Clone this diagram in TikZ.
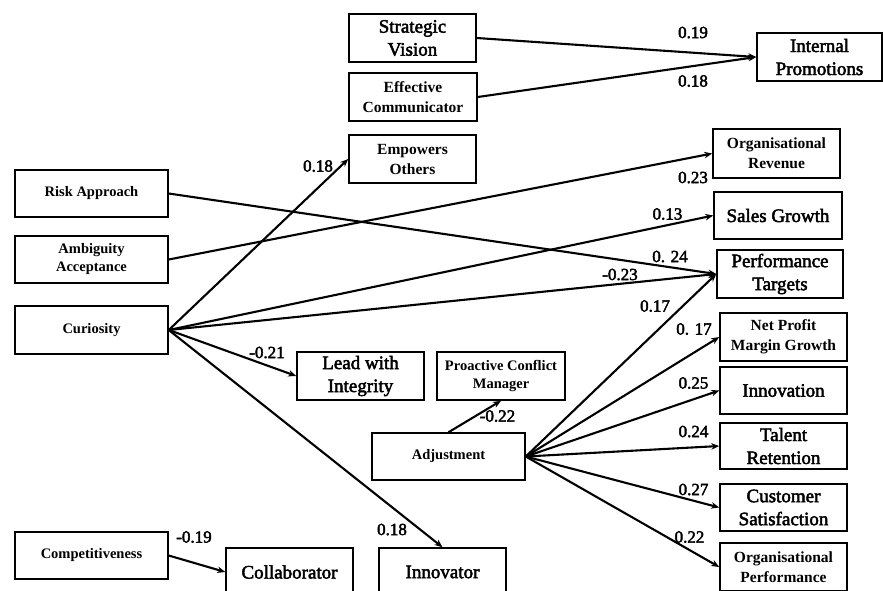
\documentclass[tikz,border=0pt]{standalone}
\usepackage{fontspec}
\setmainfont{Liberation Serif}
\newfontfamily\heavyserif[FakeBold=2.5]{Liberation Serif}
\usetikzlibrary{arrows.meta}
\tikzset{
  bigbox/.style={draw, line width=1.5pt, align=center, inner sep=0pt,
    minimum width=127pt, minimum height=48pt, font=\heavyserif\fontsize{19}{23}\selectfont},
  midbox/.style={bigbox, font=\bfseries\fontsize{15.5}{20}\selectfont},
  smallbox/.style={bigbox, minimum width=153pt, minimum height=47pt,
    font=\bfseries\fontsize{14.5}{18}\selectfont},
  coef/.style={inner sep=0pt, font=\heavyserif\fontsize{17}{20}\selectfont},
  link/.style={->, line width=2.1pt}
}

\begin{document}
\begin{tikzpicture}[x=1pt, y=-1pt, >={Stealth[length=8pt,width=6.5pt]}]
  \useasboundingbox (0,0) rectangle (883,590);
  \clip (0,0) rectangle (883,590);
  % boxes
  \node[bigbox] (strat) at (412.5,38) {Strategic\\Vision};
  \node[midbox, minimum width=128pt] (effcom) at (413,97) {Effective\\Communicator};
  \node[midbox] (empow) at (412.5,159) {Empowers\\Others};
  \node[bigbox, minimum width=125pt] (intprom) at (819.5,57) {Internal\\Promotions};
  \node[midbox, minimum height=49pt] (orgrev) at (776.5,153.5) {Organisational\\Revenue};
  \node[bigbox, minimum width=128pt, minimum height=47pt] (sales) at (778,215.5) {Sales Growth};
  \node[bigbox, minimum width=126pt] (perf) at (780,274) {Performance\\Targets};
  \node[smallbox] (risk) at (91.5,193.5) {Risk Approach};
  \node[smallbox] (ambig) at (91.5,259.5) {Ambiguity\\Acceptance};
  \node[smallbox, minimum height=48pt] (curio) at (91.5,330) {Curiosity};
  \node[bigbox] (lead) at (360.5,376) {Lead with\\Integrity};
  \node[smallbox, minimum width=128pt, minimum height=48pt] (proact) at (501,376) {Proactive Conflict\\Manager};
  \node[smallbox] (adjust) at (448.5,456.5) {Adjustment};
  \node[smallbox] (compet) at (91.5,555.5) {Competitiveness};
  \node[bigbox] (collab) at (289.5,572) {Collaborator};
  \node[bigbox] (innovr) at (442.5,572) {Innovator};
  \node[midbox] (netprof) at (783.5,337) {Net Profit\\Margin Growth};
  \node[bigbox, minimum height=47pt] (innov) at (783.5,390.5) {Innovation};
  \node[bigbox, minimum height=46pt] (talent) at (783.5,446) {Talent\\Retention};
  \node[bigbox, minimum height=47pt] (cust) at (783.5,507.5) {Customer\\Satisfaction};
  \node[midbox] (orgperf) at (783.5,567) {Organisational\\Performance};
  % paths
  \draw[link] (strat.east) -- (intprom.west);
  \draw[link] (effcom.east) -- (intprom.west);
  \draw[link] (curio.east) -- (empow.west);
  \draw[link] (risk.east) -- (perf.west);
  \draw[link] (ambig.east) -- (orgrev.west);
  \draw[link] (curio.east) -- (sales.west);
  \draw[link] (curio.east) -- (perf.west);
  \draw[link] (curio.east) -- (lead.west);
  \draw[link] (curio.east) -- (innovr.north);
  \draw[link] (compet.east) -- (collab.west);
  \draw[link] (adjust.north) -- (proact.south);
  \draw[link] (adjust.east) -- (perf.west);
  \draw[link] (adjust.east) -- (netprof.west);
  \draw[link] (adjust.east) -- (innov.west);
  \draw[link] (adjust.east) -- (talent.west);
  \draw[link] (adjust.east) -- (cust.west);
  \draw[link] (adjust.east) -- (orgperf.west);
  % coefficients
  \node[coef] (c1) at (693,32.5) {0.19};
  \node[coef] (c2) at (693,81) {0.18};
  \node[coef] (c3) at (318,166) {0.18};
  \node[coef] (c4) at (693,177.5) {0.23};
  \node[coef] (c5) at (667.5,214) {0.13};
  \node[coef] (c6) at (670,256.5) {0. 24};
  \node[coef] (c7) at (620,274.5) {-0.23};
  \node[coef] (c8) at (655,306) {0.17};
  \node[coef] (c9) at (694,329) {0. 17};
  \node[coef] (c10) at (693.5,383) {0.25};
  \node[coef] (c11) at (693.5,431.5) {0.24};
  \node[coef] (c12) at (693.5,489.5) {0.27};
  \node[coef] (c13) at (689.5,537) {0.22};
  \node[coef] (c14) at (497.5,416) {-0.22};
  \node[coef] (c15) at (267,352.5) {-0.21};
  \node[coef] (c16) at (392,529.5) {0.18};
  \node[coef] (c17) at (194,537) {-0.19};
\end{tikzpicture}
\end{document}
